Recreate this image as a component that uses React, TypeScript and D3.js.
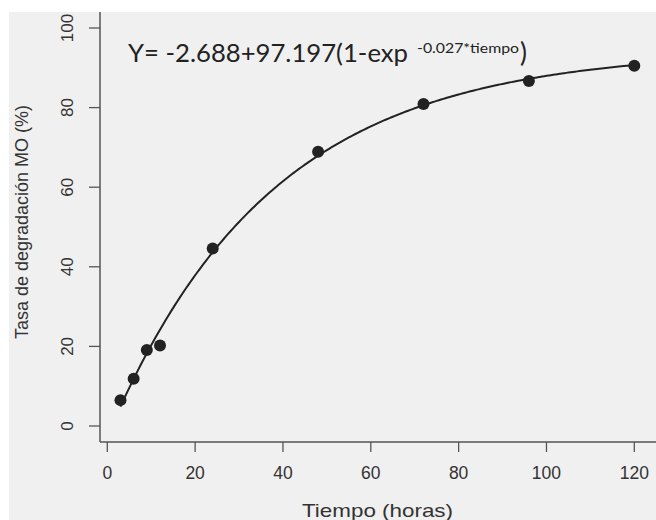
import React from "react";
import * as d3 from "d3";

const tiempo = [3, 6, 9, 12, 24, 48, 72, 96, 120];
const degradacion = [6.5, 11.9, 19.1, 20.2, 44.6, 68.9, 80.9, 86.7, 90.5];
const xTicks = [0, 20, 40, 60, 80, 100, 120];
const yTicks = [0, 20, 40, 60, 80, 100];
const modelA = -2.688;
const modelB = 97.197;
const modelK = 0.027;
const modelRange = [3, 120];

const W = 656;
const H = 520;

export default function App() {
  const x = d3.scaleLinear().domain([0, 120]).range([107.3, 634.3]);
  const y = d3.scaleLinear().domain([0, 100]).range([426, 28]);

  const curvePts: [number, number][] = d3
    .range(modelRange[0], modelRange[1] + 0.001, 0.5)
    .map((t) => [t, modelA + modelB * (1 - Math.exp(-modelK * t))]);
  const line = d3
    .line<[number, number]>()
    .x((d) => x(d[0]))
    .y((d) => y(d[1]))
    .curve(d3.curveMonotoneX);

  const axisColor = "#555";
  const textColor = "#333";
  const font = "'Liberation Sans', Arial, sans-serif";

  return (
    <svg
      width={W}
      height={H}
      style={{ position: "absolute", left: 0, top: 0 }}
      fontFamily={font}
    >
      <rect x={0} y={0} width={W} height={H} fill="#fff" />
      <rect x={9} y={12} width={W - 9} height={H - 12} fill="#f0f0f0" />

      {/* axes lines */}
      <line x1={100} y1={12} x2={100} y2={442} stroke={axisColor} strokeWidth={1.5} />
      <line x1={100} y1={442} x2={W} y2={442} stroke={axisColor} strokeWidth={1.5} />

      {/* y ticks */}
      {yTicks.map((t) => (
        <g key={"y" + t}>
          <line x1={89} x2={100} y1={y(t)} y2={y(t)} stroke={axisColor} strokeWidth={1.3} />
          <text
            transform={`translate(73,${y(t)}) rotate(-90)`}
            textAnchor="middle"
            fontSize={17}
            fill={textColor}
          >
            {t}
          </text>
        </g>
      ))}

      {/* x ticks */}
      {xTicks.map((t) => (
        <g key={"x" + t}>
          <line x1={x(t)} x2={x(t)} y1={442} y2={452} stroke={axisColor} strokeWidth={1.3} />
          <text x={x(t)} y={479} textAnchor="middle" fontSize={17.5} fill={textColor}>
            {t}
          </text>
        </g>
      ))}

      {/* axis titles */}
      <text
        x={302}
        y={517}
        fontSize={19}
        fill={textColor}
        textLength={151}
        lengthAdjust="spacingAndGlyphs"
      >
        Tiempo (horas)
      </text>
      <text
        transform={`translate(28,222) rotate(-90)`}
        textAnchor="middle"
        fontSize={18}
        fill={textColor}
      >
        Tasa de degradación MO (%)
      </text>

      {/* model curve */}
      <path d={line(curvePts) || ""} fill="none" stroke="#222" strokeWidth={2} />

      {/* points */}
      {tiempo.map((t, i) => (
        <circle key={"p" + i} cx={x(t)} cy={y(degradacion[i])} r={6} fill="#222" />
      ))}

      {/* equation */}
      <text y={62} fontFamily="Lato, 'Open Sans', sans-serif" fill="#222">
        <tspan x={128} fontSize={25} textLength={280} lengthAdjust="spacingAndGlyphs">
          Y= -2.688+97.197(1-exp
        </tspan>
        <tspan x={417} fontSize={14} dy={-9} textLength={102} lengthAdjust="spacingAndGlyphs">
          -0.027*tiempo
        </tspan>
        <tspan x={520} fontSize={26} dy={9}>
          )
        </tspan>
      </text>
    </svg>
  );
}
